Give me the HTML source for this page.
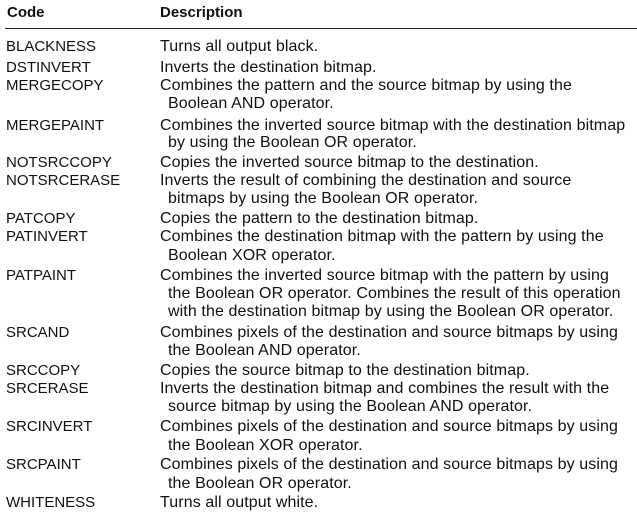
<!DOCTYPE html>
<html><head><meta charset="utf-8"><style>
body{margin:0;width:637px;height:519px;background:#fff;position:relative;overflow:hidden;font-family:"Liberation Sans",Arial,sans-serif;color:#111;}
.t{position:absolute;font-size:15px;line-height:18px;white-space:nowrap;}
.d{font-size:16px;letter-spacing:0.1px;}
.h{font-weight:bold;font-size:15px;}
.rule{position:absolute;left:5px;top:28px;width:632px;height:1px;background:#222;}
</style></head><body>
<div class="t h" style="left:7px;top:4px">Code</div>
<div class="t h" style="left:160px;top:4px">Description</div>
<div class="rule"></div>

<div class="t" style="left:6px;top:38px">BLACKNESS</div><div class="t d" style="left:160px;top:38px">Turns all output black.</div>
<div class="t" style="left:6px;top:59px">DSTINVERT</div><div class="t d" style="left:160px;top:59px">Inverts the destination bitmap.</div>
<div class="t" style="left:6px;top:77px">MERGECOPY</div><div class="t d" style="left:160px;top:77px">Combines the pattern and the source bitmap by using the</div>
<div class="t d" style="left:168px;top:95px">Boolean AND operator.</div>
<div class="t" style="left:6px;top:117px">MERGEPAINT</div><div class="t d" style="left:160px;top:117px">Combines the inverted source bitmap with the destination bitmap</div>
<div class="t d" style="left:168px;top:134px">by using the Boolean OR operator.</div>
<div class="t" style="left:6px;top:154px">NOTSRCCOPY</div><div class="t d" style="left:160px;top:154px">Copies the inverted source bitmap to the destination.</div>
<div class="t" style="left:6px;top:172px">NOTSRCERASE</div><div class="t d" style="left:160px;top:172px">Inverts the result of combining the destination and source</div>
<div class="t d" style="left:168px;top:190px">bitmaps by using the Boolean OR operator.</div>
<div class="t" style="left:6px;top:210px">PATCOPY</div><div class="t d" style="left:160px;top:210px">Copies the pattern to the destination bitmap.</div>
<div class="t" style="left:6px;top:228px">PATINVERT</div><div class="t d" style="left:160px;top:228px">Combines the destination bitmap with the pattern by using the</div>
<div class="t d" style="left:168px;top:247px">Boolean XOR operator.</div>
<div class="t" style="left:6px;top:267px">PATPAINT</div><div class="t d" style="left:160px;top:267px">Combines the inverted source bitmap with the pattern by using</div>
<div class="t d" style="left:168px;top:285px">the Boolean OR operator. Combines the result of this operation</div>
<div class="t d" style="left:168px;top:303px">with the destination bitmap by using the Boolean OR operator.</div>
<div class="t" style="left:6px;top:324px">SRCAND</div><div class="t d" style="left:160px;top:324px">Combines pixels of the destination and source bitmaps by using</div>
<div class="t d" style="left:168px;top:342px">the Boolean AND operator.</div>
<div class="t" style="left:6px;top:362px">SRCCOPY</div><div class="t d" style="left:160px;top:362px">Copies the source bitmap to the destination bitmap.</div>
<div class="t" style="left:6px;top:380px">SRCERASE</div><div class="t d" style="left:160px;top:380px">Inverts the destination bitmap and combines the result with the</div>
<div class="t d" style="left:168px;top:398px">source bitmap by using the Boolean AND operator.</div>
<div class="t" style="left:6px;top:418px">SRCINVERT</div><div class="t d" style="left:160px;top:418px">Combines pixels of the destination and source bitmaps by using</div>
<div class="t d" style="left:168px;top:437px">the Boolean XOR operator.</div>
<div class="t" style="left:6px;top:456px">SRCPAINT</div><div class="t d" style="left:160px;top:456px">Combines pixels of the destination and source bitmaps by using</div>
<div class="t d" style="left:168px;top:475px">the Boolean OR operator.</div>
<div class="t" style="left:6px;top:494px">WHITENESS</div><div class="t d" style="left:160px;top:494px">Turns all output white.</div>
</body></html>
